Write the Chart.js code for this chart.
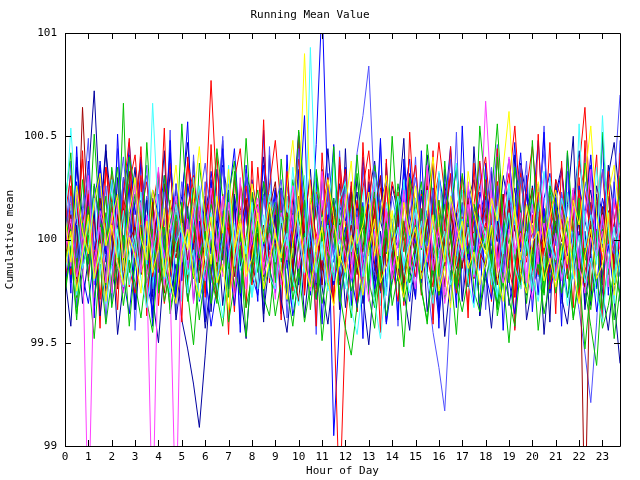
<!DOCTYPE html>
<html>
<head>
<meta charset="utf-8">
<script src="https://cdn.jsdelivr.net/npm/chart.js@4"></script>
<style>
  body { margin: 0; background: #fff; }
  canvas { display: block; }
</style>
</head>
<body>
<canvas id="chart" width="640" height="480"></canvas>
<script>
// sample times, hours (every 15 minutes)
const hours = [
  0,0.25,0.5,0.75,1,1.25,1.5,1.75,2,2.25,2.5,2.75,
  3,3.25,3.5,3.75,4,4.25,4.5,4.75,5,5.25,5.5,5.75,
  6,6.25,6.5,6.75,7,7.25,7.5,7.75,8,8.25,8.5,8.75,
  9,9.25,9.5,9.75,10,10.25,10.5,10.75,11,11.25,11.5,11.75,
  12,12.25,12.5,12.75,13,13.25,13.5,13.75,14,14.25,14.5,14.75,
  15,15.25,15.5,15.75,16,16.25,16.5,16.75,17,17.25,17.5,17.75,
  18,18.25,18.5,18.75,19,19.25,19.5,19.75,20,20.25,20.5,20.75,
  21,21.25,21.5,21.75,22,22.25,22.5,22.75,23,23.25,23.5,23.75
];
const xTicks = [0,1,2,3,4,5,6,7,8,9,10,11,12,13,14,15,16,17,18,19,20,21,22,23];
const yTicks = [99, 99.5, 100, 100.5, 101];
const yTickLabels = ['99', '99.5', '100', '100.5', '101'];

const runA = [
  100.12,100.31,99.95,100.08,100.22,99.87,100.04,100.35,100.18,99.92,100.10,100.27,
  100.41,100.06,99.89,100.15,100.33,100.02,99.84,100.19,100.09,100.37,100.24,99.96,
  100.13,100.77,100.21,99.98,100.07,100.29,100.44,100.11,99.90,100.17,100.03,100.26,
  100.48,100.14,99.93,100.20,100.39,100.05,99.86,100.23,100.12,100.30,100.01,100.16,
  100.34,99.97,100.08,100.25,100.43,100.12,99.88,100.06,100.28,100.15,99.94,100.21,
  100.36,100.04,99.91,100.18,100.47,100.22,100.00,100.13,100.31,99.95,100.09,100.26,
  100.40,100.07,99.85,100.17,100.32,100.11,99.99,100.24,100.45,100.14,99.92,100.05,
  100.29,100.19,99.96,100.10,100.38,100.23,100.02,100.15,100.33,99.98,100.08,100.27
];
const runB = [
  99.88,100.05,99.72,99.94,100.16,99.81,99.99,100.21,99.76,99.90,100.66,99.84,
  99.97,100.18,99.79,99.92,100.04,99.70,99.86,100.12,99.95,99.78,100.08,99.91,
  100.02,99.83,99.69,99.96,100.14,99.87,99.74,100.01,100.23,99.89,99.80,100.06,
  99.93,100.07,100.11,99.77,99.98,100.19,99.85,99.71,100.03,99.92,99.82,100.10,
  99.96,99.75,99.88,100.13,99.80,99.67,99.94,100.08,99.86,100.20,99.99,99.79,
  99.90,100.15,99.84,99.73,100.00,100.17,99.88,99.76,99.97,100.11,99.83,99.95,
  100.06,99.81,99.68,99.93,100.12,99.87,99.78,100.02,100.24,99.91,99.74,99.98,
  100.09,99.85,99.72,99.96,100.14,99.80,99.66,99.92,100.05,99.87,99.61,99.89
];
const runC = [
  100.15,99.92,100.28,100.04,99.83,100.19,100.36,99.95,100.10,99.78,100.24,100.41,
  100.02,99.87,100.20,99.74,100.09,100.31,99.91,100.13,99.80,100.27,100.06,99.85,
  100.17,99.93,100.34,100.08,99.76,100.22,100.01,99.89,100.29,100.12,99.82,100.05,
  100.25,99.90,100.11,99.79,100.33,100.14,99.97,100.46,101.15,100.20,99.05,99.60,
  100.03,100.26,99.88,100.18,99.75,100.10,100.30,99.94,100.07,99.81,100.21,100.39,
  99.96,100.14,99.84,100.25,100.04,99.77,100.19,100.35,99.92,100.08,99.86,100.23,
  100.11,99.80,100.28,100.02,99.89,100.16,100.42,99.95,100.06,99.73,100.20,100.32,
  99.98,100.13,99.83,100.24,100.05,99.90,100.18,99.76,100.09,100.27,99.94,100.12
];
const runD = [
  99.95,100.10,99.82,99.97,98.60,99.90,100.06,99.79,100.13,99.88,99.74,100.02,
  99.91,100.18,99.85,98.60,100.04,99.93,99.77,98.60,100.08,99.86,100.15,99.94,
  99.80,100.03,99.89,100.21,99.96,99.72,100.09,99.87,99.99,100.16,99.83,99.92,
  100.05,99.78,99.94,100.12,99.86,100.01,99.75,99.90,100.19,99.97,99.84,100.07,
  99.93,99.81,100.10,99.88,99.70,100.04,99.92,100.14,99.85,99.98,100.22,99.90,
  99.76,100.02,99.89,100.11,99.95,99.69,99.87,100.06,99.94,100.17,99.82,100.00,
  100.67,100.20,99.91,99.79,100.05,99.93,100.13,99.84,99.71,99.97,100.08,99.88,
  100.03,99.80,99.95,100.16,99.87,99.74,100.01,99.92,100.12,99.86,99.99,100.07
];
const runE = [
  100.08,100.54,100.12,99.86,99.97,100.20,99.83,100.05,100.29,99.91,100.14,99.78,
  99.99,100.23,99.88,100.66,100.10,99.81,99.95,100.17,100.03,99.74,100.09,100.26,
  99.92,100.13,99.79,100.01,100.31,99.87,100.06,99.93,100.18,99.76,100.04,100.22,
  99.89,100.11,99.97,100.35,100.02,99.84,100.93,100.16,99.90,100.07,99.80,100.19,
  100.28,99.94,100.05,99.82,100.12,100.30,99.96,99.73,100.08,100.21,99.87,100.00,
  100.15,99.85,100.24,100.03,99.77,99.95,100.19,100.37,99.91,100.06,99.83,100.11,
  100.02,99.78,100.16,99.93,100.27,100.09,99.86,100.04,99.75,100.13,100.33,99.98,
  99.90,100.20,100.07,99.81,100.56,99.96,100.12,99.88,100.60,100.05,99.79,100.14
];
const runF = [
  100.11,99.89,100.26,100.04,99.93,100.18,100.32,99.97,100.09,100.22,99.85,100.13,
  100.30,100.01,99.90,100.24,100.07,99.82,100.15,100.36,100.05,99.95,100.19,100.45,
  100.08,99.88,100.21,100.03,100.34,99.96,100.12,99.84,100.27,100.10,99.99,100.17,
  100.02,99.91,100.25,100.48,100.14,100.90,100.20,99.94,100.06,100.29,100.11,99.87,
  100.16,100.38,99.98,100.07,100.23,99.92,100.10,100.31,100.04,99.86,100.18,100.02,
  100.26,99.97,100.12,100.40,100.06,99.89,100.21,100.08,99.95,100.33,100.14,100.01,
  99.93,100.20,100.09,100.35,100.62,100.13,99.90,100.17,100.03,100.28,99.96,100.11,
  100.24,100.05,99.88,100.19,100.07,100.30,100.55,100.12,99.94,100.22,100.36,100.08
];
const runG = [
  99.94,100.12,99.81,100.64,100.05,99.87,100.20,99.98,100.09,99.76,100.14,100.33,
  99.92,100.06,99.83,100.18,99.97,100.27,99.85,100.02,100.16,99.90,100.08,99.79,
  100.11,100.24,99.88,99.99,100.13,99.74,100.05,100.19,99.93,100.03,99.82,100.15,
  100.28,99.95,100.07,99.86,100.21,100.01,99.89,100.17,99.78,100.04,100.12,99.91,
  100.00,100.23,99.84,100.09,99.96,100.14,100.31,99.87,100.02,99.80,100.18,100.06,
  99.93,100.10,100.26,99.91,100.04,99.77,100.13,100.00,99.86,100.20,99.97,100.08,
  100.15,99.88,100.03,100.22,99.90,100.07,99.79,100.11,100.25,99.95,100.01,99.84,
  100.14,99.99,100.06,99.83,100.18,98.60,100.09,99.92,100.02,100.21,99.88,99.97
];
const runH = [
  100.06,99.91,100.18,99.84,100.30,100.72,100.15,99.93,100.04,100.22,99.86,100.11,
  99.97,100.19,100.02,99.80,100.13,99.95,99.72,99.88,99.61,99.47,99.30,99.09,
  99.44,99.83,100.10,99.96,100.24,100.03,99.87,100.16,99.92,100.07,100.28,99.85,
  100.01,100.20,99.89,100.12,99.78,100.05,100.34,99.94,100.09,99.82,100.15,100.26,
  99.90,100.08,100.23,99.86,100.01,99.73,100.17,100.04,99.88,100.13,100.29,99.95,
  100.10,99.84,100.03,100.19,99.91,100.27,100.06,99.79,99.97,100.14,100.00,99.87,
  100.21,99.93,100.09,99.81,100.12,100.25,99.96,100.05,99.89,100.18,100.02,99.76,
  100.07,100.16,99.92,100.03,99.85,100.11,100.24,99.98,99.83,100.06,99.71,99.40
];
const runI = [
  99.96,100.14,99.82,100.07,99.91,100.25,100.03,99.78,100.16,99.94,100.30,100.09,
  99.87,100.02,100.21,99.93,99.76,100.11,99.99,100.27,99.85,100.05,100.18,99.92,
  100.08,99.81,100.13,100.35,99.97,100.04,99.74,100.19,100.01,99.88,100.22,100.10,
  99.95,100.17,99.86,100.06,100.28,99.90,100.12,99.79,100.03,100.24,99.92,100.15,
  100.31,100.09,100.42,100.60,100.84,100.20,99.98,100.14,100.02,99.89,100.23,100.06,
  99.93,100.11,99.80,99.55,99.38,99.17,99.70,100.04,100.17,99.91,100.08,99.85,
  100.19,99.97,100.26,100.03,99.87,100.13,100.36,99.94,100.07,99.82,100.15,100.01,
  99.90,100.22,100.05,99.84,99.66,99.45,99.21,99.60,100.10,99.96,100.28,100.70
];
const runJ = [
  99.85,100.03,99.72,99.96,100.14,99.80,99.91,100.08,99.77,99.99,100.19,99.86,
  99.74,99.93,100.11,99.82,100.02,99.69,99.88,100.06,99.95,99.79,100.15,99.90,
  100.04,99.84,99.71,99.97,100.12,99.87,100.26,99.93,99.78,100.01,99.89,100.16,
  99.92,99.81,100.07,99.75,99.98,100.18,99.86,99.73,100.05,99.94,99.68,98.70,
  99.60,99.90,100.10,99.83,99.96,100.20,99.79,100.03,99.88,99.70,100.09,99.95,
  99.82,100.06,99.92,99.77,100.13,99.87,100.00,99.74,99.91,100.17,99.85,99.97,
  100.08,99.80,99.94,100.22,99.86,99.72,100.04,99.89,100.12,99.83,99.99,99.76,
  99.93,100.10,99.81,99.98,100.24,99.87,99.75,100.05,99.90,100.14,99.84,100.02
];
const runK = [
  100.13,99.94,100.20,100.04,99.88,100.27,100.09,99.97,100.16,100.35,99.92,100.06,
  100.22,100.01,99.86,100.14,100.30,99.95,100.08,100.19,99.90,100.03,100.25,100.12,
  99.93,100.17,100.05,99.84,100.21,100.38,100.02,99.91,100.11,100.24,99.98,100.07,
  100.18,99.89,100.04,100.29,100.10,99.96,100.15,100.33,99.99,100.08,100.20,99.87,
  100.03,100.16,100.32,99.94,100.09,100.23,99.85,100.12,100.01,100.27,100.06,99.92,
  100.14,100.28,99.97,100.05,100.19,99.90,100.11,100.36,100.02,99.93,100.17,100.08,
  99.95,100.21,100.56,100.10,99.98,100.13,100.30,100.04,99.86,100.18,100.07,100.25,
  99.99,100.12,100.03,99.88,100.20,99.76,99.58,99.39,99.82,100.06,99.94,100.15
];
const runL = [
  99.78,99.96,100.10,99.83,99.69,99.92,100.05,99.75,99.88,100.13,99.81,99.64,
  99.93,100.07,99.79,99.66,99.90,100.02,99.84,99.72,100.11,99.87,99.98,99.70,
  99.85,99.58,99.77,100.04,99.91,99.68,99.95,100.16,99.82,99.73,99.99,99.86,
  99.74,100.08,99.89,99.63,99.80,100.01,99.92,99.71,99.84,100.12,99.78,99.94,
  100.06,99.82,99.67,99.88,100.03,99.76,99.93,99.59,99.81,100.09,99.87,99.70,
  99.96,99.79,100.14,99.85,99.62,99.90,100.05,99.73,99.88,99.97,99.69,100.10,
  99.83,99.71,99.95,100.07,99.80,99.64,99.91,100.02,99.77,99.86,100.15,99.74,
  99.89,99.98,99.72,99.84,100.04,99.79,99.93,99.65,99.82,99.97,99.75,99.91
];
const runM = [
  100.20,100.02,100.35,100.11,99.94,100.26,100.08,100.43,100.15,99.97,100.30,100.05,
  100.18,100.39,100.01,100.24,100.12,99.95,100.33,100.07,100.21,100.47,100.10,99.99,
  100.14,100.28,100.03,100.36,100.19,99.96,100.09,100.31,100.22,100.04,100.40,100.13,
  99.98,100.25,100.12,100.06,100.34,100.17,100.00,100.23,100.11,100.44,100.08,100.27,
  100.15,99.93,100.30,100.05,100.21,100.38,100.09,99.97,100.26,100.13,100.02,100.32,
  100.18,100.06,100.41,100.10,99.95,100.23,100.14,100.35,100.02,100.19,100.29,100.07,
  100.24,100.11,99.99,100.31,100.16,100.04,100.37,100.20,100.08,100.27,99.96,100.13,
  100.22,100.35,100.05,100.17,100.43,100.09,99.98,100.26,100.12,100.31,100.47,100.18
];
const runN = [
  100.01,100.17,99.89,100.06,100.24,99.93,100.11,99.80,100.04,100.20,99.95,100.09,
  99.86,100.13,100.28,99.97,100.07,99.83,100.19,100.02,99.91,100.15,100.31,100.00,
  99.94,100.10,99.82,100.22,100.05,99.88,100.14,100.26,99.96,100.03,99.85,100.18,
  100.08,99.92,100.21,100.01,99.87,100.12,100.29,99.98,100.06,99.81,100.16,100.03,
  99.95,100.19,100.07,99.84,100.11,99.97,100.25,100.09,99.90,100.14,100.02,99.86,
  100.20,100.05,99.93,100.16,100.32,100.00,99.89,100.10,100.23,99.96,100.04,100.17,
  99.99,100.13,99.85,100.08,100.27,100.55,100.12,99.94,100.03,100.19,99.88,100.06,
  100.15,99.92,100.21,100.04,100.35,100.64,100.10,99.97,100.07,99.86,100.18,100.01
];
const runO = [
  99.84,100.01,99.73,99.92,100.09,99.80,99.96,99.69,99.88,100.05,99.77,99.93,
  100.02,99.81,99.67,99.90,100.11,99.86,99.74,99.98,100.06,99.83,99.95,99.71,
  99.87,100.04,99.79,99.62,99.91,100.08,99.85,99.97,99.72,99.89,100.12,99.82,
  99.76,99.94,100.03,99.80,99.68,99.90,100.07,99.84,99.99,99.75,99.92,100.00,
  99.83,99.66,99.54,99.78,99.95,99.70,99.52,99.81,99.97,100.06,99.86,99.74,
  99.91,100.09,99.82,99.69,99.94,100.04,99.78,99.88,100.10,99.80,99.67,99.93,
  100.01,99.85,99.72,99.96,100.13,99.87,99.76,99.99,99.83,99.70,99.92,100.05,
  99.81,99.95,99.68,99.87,100.02,99.79,99.91,99.74,99.60,99.89,100.06,99.84
];
const runP = [
  100.10,99.86,100.24,100.03,100.38,99.95,100.15,99.89,100.29,100.06,99.93,100.47,
  100.12,100.30,99.97,100.20,99.84,100.09,100.42,100.01,99.92,100.26,100.14,99.88,
  100.05,100.33,100.11,99.90,100.19,100.44,100.02,99.87,100.23,100.08,100.36,99.95,
  100.17,99.91,100.27,100.04,100.50,100.13,99.94,100.21,100.00,100.32,99.89,100.16,
  100.09,100.25,99.93,100.40,100.07,99.85,100.18,100.29,100.03,99.96,100.34,100.12,
  99.97,100.21,100.06,99.88,100.31,100.15,100.45,100.02,99.91,100.24,100.10,99.98,
  100.28,100.05,99.90,100.17,100.39,100.08,99.94,100.22,100.13,100.48,100.01,99.92,
  100.19,100.33,100.06,99.87,100.26,100.11,100.41,99.99,100.20,100.07,99.93,100.30
];
const runQ = [
  99.90,100.08,99.77,99.97,100.15,99.84,100.02,99.71,99.93,100.12,99.80,99.99,
  100.06,99.83,99.95,100.18,99.88,99.74,100.03,99.91,100.10,99.79,99.96,100.14,
  99.86,100.00,99.72,99.94,100.11,99.82,100.05,100.20,99.89,99.76,100.07,99.92,
  99.98,99.81,100.13,99.87,99.70,100.04,99.93,100.16,99.85,99.97,100.09,99.78,
  99.92,100.07,99.83,99.96,100.17,99.88,99.75,100.01,99.90,100.12,99.79,99.95,
  100.03,99.84,100.10,99.91,99.73,99.99,100.14,99.86,99.97,100.06,99.81,99.94,
  99.87,100.05,99.78,99.98,100.19,99.89,99.76,100.02,99.93,100.11,99.82,99.96,
  100.08,99.85,99.97,100.13,99.90,99.77,100.04,99.92,100.16,99.83,99.99,100.09
];
const runR = [
  99.76,99.93,99.64,99.85,100.02,99.72,99.88,99.59,99.81,99.97,99.68,99.90,
  99.79,99.62,99.87,100.05,99.74,99.91,99.66,99.83,99.99,99.70,99.86,99.61,
  99.84,100.00,99.73,99.58,99.89,99.77,99.95,99.67,99.82,100.06,99.75,99.88,
  99.63,99.80,99.96,99.71,99.86,99.60,99.78,99.94,99.69,99.85,100.03,99.74,
  99.57,99.44,99.68,99.83,99.99,99.72,99.87,99.63,99.79,99.92,99.70,99.84,
  99.98,99.75,99.61,99.86,99.73,99.90,100.04,99.78,99.65,99.82,99.95,99.69,
  99.81,99.93,99.66,99.84,99.71,99.58,99.87,100.01,99.76,99.89,99.64,99.80,
  99.91,99.74,99.86,99.62,99.79,99.96,99.70,99.83,99.57,99.68,99.85,99.73
];
const runS = [
  99.86,100.04,99.75,99.93,100.12,99.81,99.98,99.70,100.07,99.89,99.78,100.01,
  99.92,99.74,100.09,99.84,99.96,100.15,99.80,99.69,99.94,100.05,99.83,99.72,
  99.97,100.11,99.79,99.88,99.66,99.95,100.08,99.82,99.91,100.13,99.76,99.90,
  100.03,99.85,99.71,99.99,100.17,99.87,99.77,99.94,100.06,99.80,99.68,99.92,
  99.84,100.02,99.90,99.73,99.96,100.10,99.79,99.88,100.14,99.83,99.72,99.97,
  100.06,99.81,99.93,100.12,99.75,99.87,99.67,99.98,100.09,99.86,99.94,99.78,
  99.89,100.07,99.82,99.70,99.95,100.16,99.84,99.74,99.99,100.04,99.80,99.91,
  99.77,99.96,100.11,99.85,99.69,99.92,100.05,99.81,99.88,100.13,99.73,99.95
];
const runT = [
  100.03,100.21,99.91,100.12,100.34,99.97,100.08,100.26,99.88,100.15,100.40,100.05,
  99.94,100.17,100.31,100.02,99.86,100.23,100.10,99.99,100.28,100.06,99.90,100.19,
  100.37,100.09,99.95,100.14,100.27,99.89,100.04,100.32,100.11,99.93,100.20,100.01,
  100.16,100.29,99.98,100.07,100.44,100.13,99.87,100.22,100.05,100.18,99.96,100.10,
  100.25,100.00,100.14,99.90,100.08,100.33,100.17,99.94,100.21,100.06,99.85,100.12,
  100.30,100.09,99.97,100.24,100.03,100.16,100.39,99.92,100.07,100.26,100.11,99.99,
  100.14,100.35,100.02,99.88,100.20,100.09,100.30,100.04,99.95,100.17,100.43,100.10,
  99.97,100.23,100.06,100.15,99.91,100.28,100.12,100.01,100.34,100.08,99.93,100.19
];
const runU = [
  100.32,99.74,100.45,99.88,100.21,99.62,100.38,100.05,99.69,100.51,99.93,100.27,
  99.66,100.40,100.02,99.58,100.33,99.81,100.48,99.72,100.15,100.57,99.85,100.09,
  99.60,100.29,99.91,100.44,99.76,100.19,99.55,100.36,100.01,99.70,100.53,99.89,
  100.24,99.64,100.41,99.83,100.12,100.60,99.73,100.30,99.59,100.07,100.46,99.80,
  100.35,99.68,100.18,99.52,100.27,99.94,100.49,99.77,100.10,99.61,100.39,99.98,
  99.71,100.43,99.86,100.22,99.57,100.34,100.03,99.67,100.55,99.90,100.16,99.63,
  100.37,99.79,100.25,99.56,100.11,100.47,99.84,100.31,99.65,100.06,100.52,99.75,
  100.20,99.58,100.42,99.87,100.14,99.69,100.36,99.95,100.50,99.73,100.28,99.82
];
const runV = [
  99.70,100.26,99.93,100.43,99.80,100.12,99.57,100.35,100.07,99.66,100.22,100.49,
  99.88,100.31,99.63,100.17,99.95,100.54,99.75,100.09,99.60,100.40,99.98,100.25,
  99.72,100.46,99.87,100.13,99.54,100.30,100.04,99.67,100.38,99.90,100.58,99.79,
  100.16,99.61,100.33,99.96,100.50,99.74,100.20,99.58,100.42,100.01,99.69,100.36,
  99.84,100.28,99.65,100.47,99.92,100.14,99.55,100.39,99.81,100.23,99.68,100.52,
  100.05,99.73,100.34,99.59,100.19,99.97,100.45,99.76,100.11,99.62,100.37,99.86,
  100.29,99.70,100.44,99.89,100.15,99.56,100.32,100.08,99.78,100.51,99.93,100.21,
  99.64,100.38,99.85,100.24,99.71,100.48,99.99,100.17,99.60,100.33,99.83,100.42
];
const runW = [
  100.18,100.42,99.86,100.29,99.97,100.51,100.07,99.78,100.35,100.13,99.90,100.40,
  100.24,99.83,100.47,100.02,99.75,100.31,100.16,99.94,100.56,100.09,99.81,100.37,
  100.11,99.87,100.44,100.20,99.72,100.33,99.99,100.49,100.05,99.84,100.28,100.14,
  99.79,100.39,100.03,99.91,100.53,100.22,99.85,100.34,100.10,99.76,100.45,100.00,
  100.27,99.89,100.41,100.06,99.80,100.36,100.15,99.93,100.50,100.04,99.74,100.30,
  100.12,99.95,100.46,100.19,99.82,100.38,100.01,99.77,100.32,100.09,99.88,100.55,
  100.23,99.86,100.40,100.07,99.79,100.35,100.14,99.92,100.48,100.02,99.73,100.26,
  100.17,99.90,100.43,100.05,99.81,100.37,100.11,99.96,100.52,100.08,99.78,100.31
];
const runX = [
  99.82,99.58,100.07,99.69,99.91,100.14,99.63,99.87,100.02,99.54,99.79,100.10,
  99.66,99.95,100.19,99.72,99.50,99.89,100.05,99.61,99.84,100.16,99.70,99.93,
  99.57,99.81,100.09,99.68,99.96,100.21,99.74,99.52,99.88,100.03,99.64,99.90,
  100.12,99.71,99.55,99.86,100.06,99.62,99.93,100.18,99.77,99.59,99.85,100.08,
  99.67,99.94,100.15,99.73,99.49,99.83,100.04,99.60,99.89,100.20,99.75,99.56,
  99.91,100.11,99.65,99.87,100.01,99.53,99.80,100.13,99.70,99.95,100.17,99.63,
  99.84,99.57,99.92,100.09,99.68,99.86,100.14,99.61,99.78,100.03,99.54,99.90,
  100.07,99.72,99.59,99.88,100.12,99.66,99.94,100.18,99.75,99.56,99.83,100.02
];
const runY = [
  100.09,99.87,100.23,99.95,100.31,99.80,100.14,100.02,99.74,100.19,99.91,100.06,
  100.27,99.84,100.12,99.96,100.35,99.78,100.04,100.21,99.89,100.10,99.69,100.16,
  99.93,100.25,100.01,99.82,100.18,99.97,100.30,99.76,100.08,100.20,99.86,100.03,
  99.71,100.13,99.90,100.26,100.05,99.83,100.17,99.94,100.33,99.79,100.07,99.98,
  100.22,99.88,100.11,99.75,100.04,100.29,99.92,100.15,99.81,100.00,100.24,99.87,
  100.13,99.96,100.36,99.85,100.06,99.73,100.19,100.01,99.90,100.28,99.82,100.10,
  99.99,100.24,99.84,100.12,100.40,99.94,100.03,99.79,100.17,99.88,100.32,100.05,
  99.80,100.14,99.97,100.25,99.86,100.09,100.34,99.92,100.04,99.77,100.20,99.95
];
const runZ = [
  99.92,100.38,99.67,100.15,100.49,99.78,100.26,99.60,100.04,100.44,99.85,100.30,
  99.56,100.09,100.36,99.74,100.22,99.90,100.53,99.64,100.13,99.81,100.41,99.97,
  100.28,99.70,100.06,100.50,99.87,100.19,99.59,100.34,99.95,100.12,99.68,100.45,
  99.83,100.24,99.62,100.07,100.39,99.76,100.16,99.54,100.31,100.00,99.72,100.43,
  99.89,100.20,99.65,100.35,100.02,99.80,100.47,99.73,100.10,99.58,100.27,99.96,
  100.40,99.79,100.14,99.61,100.32,100.05,99.86,100.52,99.71,100.18,99.93,100.37,
  99.66,100.11,100.46,99.84,100.23,99.57,100.09,100.38,99.78,100.01,100.55,99.88,
  100.21,99.69,100.33,100.00,99.75,100.44,99.91,100.16,99.63,100.29,99.86,100.48
];
const runAA = [
  100.25,99.83,100.10,100.39,99.92,100.18,99.71,100.06,100.33,99.88,100.14,99.77,
  100.02,100.45,99.86,100.20,99.68,100.11,100.37,99.94,100.08,99.79,100.30,100.00,
  99.74,100.16,100.42,99.90,100.05,99.65,100.27,100.13,99.84,100.35,99.97,100.21,
  100.09,99.80,100.31,99.96,100.48,99.73,100.12,100.03,99.86,100.24,99.69,100.40,
  100.07,99.91,100.19,99.75,100.34,100.01,99.82,100.26,99.95,100.13,99.70,100.29,
  99.87,100.22,99.98,100.43,99.76,100.10,100.32,99.89,100.04,99.66,100.17,100.38,
  100.11,99.79,100.28,99.93,100.15,99.72,100.36,100.00,99.85,100.23,99.98,100.47,
  99.81,100.19,100.04,99.67,100.30,99.90,100.12,100.41,99.78,100.08,99.94,100.26
];
const runAB = [
  99.98,100.17,99.80,100.05,100.28,99.89,100.11,99.73,100.22,99.94,100.07,100.34,
  99.85,99.99,100.19,99.76,100.04,100.25,99.91,100.13,99.70,100.02,100.30,99.87,
  100.15,99.79,100.08,99.95,100.36,99.83,100.01,100.20,99.72,100.10,99.90,100.27,
  100.03,99.84,100.21,99.67,100.09,100.31,99.93,100.00,99.78,100.14,100.40,99.88,
  99.76,100.12,99.96,100.26,99.81,100.05,99.68,100.18,100.02,99.86,100.29,99.94,
  100.20,99.74,100.07,99.90,100.33,99.97,99.82,100.11,100.24,99.79,100.03,99.92,
  99.87,100.16,99.71,100.04,100.27,99.93,100.10,99.77,100.19,100.01,99.84,100.30,
  100.06,99.81,100.23,99.95,99.73,100.14,99.89,100.35,99.98,100.09,99.69,100.12
];
const runAC = [
  99.73,99.95,99.61,100.08,99.82,99.52,99.90,100.13,99.67,99.86,100.02,99.58,
  99.89,100.15,99.70,99.55,99.93,100.06,99.64,99.81,100.18,99.74,99.49,99.87,
  100.04,99.69,99.85,100.11,99.60,99.78,99.97,99.53,99.88,100.09,99.72,99.63,
  99.91,100.14,99.76,99.58,99.84,100.03,99.66,99.95,99.51,99.79,100.10,99.70,
  99.86,99.62,99.98,100.16,99.73,99.57,99.89,100.05,99.68,99.83,99.48,99.92,
  100.07,99.77,99.59,99.94,100.12,99.71,99.85,99.54,99.99,100.14,99.75,99.65,
  99.90,100.06,99.63,99.80,99.50,99.87,100.11,99.69,99.96,99.56,99.82,100.01,
  99.74,99.93,100.09,99.61,99.85,99.47,99.78,100.04,99.66,99.89,99.52,99.76
];
const runAD = [
  100.16,99.79,100.40,99.96,100.23,99.68,100.08,100.46,99.87,100.30,99.75,100.12,
  100.35,99.90,100.19,99.62,100.05,100.43,99.82,100.27,100.00,99.71,100.38,99.94,
  100.21,99.65,100.11,100.48,99.86,100.17,99.73,100.32,99.97,100.09,99.60,100.41,
  99.88,100.25,99.70,100.13,100.52,99.93,100.06,99.76,100.34,99.84,100.20,99.66,
  100.44,99.81,100.10,99.69,100.28,100.02,99.74,100.37,99.91,100.15,100.49,99.85,
  99.72,100.24,99.98,100.39,99.63,100.07,100.31,99.89,100.18,99.77,100.45,100.03,
  99.95,100.33,99.67,100.14,99.86,100.41,100.00,99.73,100.26,99.92,100.09,99.60,
  100.29,99.83,100.17,100.50,99.78,100.04,99.68,100.22,99.96,100.36,100.11,99.70
];

// draw order, bottom to top
const runs = [runS, runF, runO, runE, runY, runD, runR, runB, runAC, runQ, runT, runK, runW, runG, runJ,
              runL, runX, runA, runV, runI, runAB, runP, runN, runAA, runU, runC, runZ, runM, runAD, runH];
const runColors = ['#ffff00', '#ffff00', '#40ffff', '#40ffff', '#ff40ff', '#ff40ff', '#00c000', '#00c000', '#00c000', '#a00000',
                   '#5050ff', '#00c000', '#00c000', '#a00000', '#ff0000', '#0000ff', '#0000a0', '#ff0000', '#ff0000', '#5050ff',
                   '#40ffff', '#0000ff', '#ff0000', '#ff0000', '#0000ff', '#0000ff', '#5050ff', '#0000a0', '#0000a0', '#0000a0'];

const FONT = { family: "'DejaVu Sans Mono', monospace", size: 11, weight: 'normal' };

// gnuplot style box with inward ticks on all four sides
const framePlugin = {
    id: 'frame',
    afterDatasetsDraw(chart) {
        const { ctx, chartArea: a, scales } = chart;
        ctx.save();
        ctx.strokeStyle = '#000';
        ctx.lineWidth = 1;
        ctx.beginPath();
        ctx.rect(a.left + 0.5, a.top + 0.5, a.right - a.left, a.bottom - a.top);
        xTicks.forEach(v => {
            const px = Math.round(scales.x.getPixelForValue(v)) + 0.5;
            ctx.moveTo(px, a.bottom); ctx.lineTo(px, a.bottom - 6);
            ctx.moveTo(px, a.top); ctx.lineTo(px, a.top + 6);
        });
        yTicks.forEach(v => {
            const py = Math.round(scales.y.getPixelForValue(v)) + 0.5;
            ctx.moveTo(a.left, py); ctx.lineTo(a.left + 6, py);
            ctx.moveTo(a.right, py); ctx.lineTo(a.right - 6, py);
        });
        ctx.stroke();
        ctx.restore();
    }
};

new Chart(document.getElementById('chart'), {
    type: 'line',
    data: {
        datasets: runs.map((run, i) => ({
            data: run.map((v, j) => ({ x: hours[j], y: v })),
            borderColor: runColors[i],
            borderWidth: 1,
            pointRadius: 0,
            tension: 0,
            fill: false
        }))
    },
    options: {
        responsive: false,
        animation: false,
        layout: { padding: { left: 0, right: 20, top: 0, bottom: 0 } },
        plugins: {
            legend: { display: false },
            tooltip: { enabled: false },
            title: {
                display: true,
                text: 'Running Mean Value',
                color: '#000',
                font: FONT,
                padding: { top: 9, bottom: 10.8 }
            }
        },
        scales: {
            x: {
                type: 'linear',
                min: 0,
                max: 23.75,
                afterBuildTicks: s => { s.ticks = xTicks.map(v => ({ value: v })); },
                afterFit: s => { s.height = 34; },
                grid: { display: false, drawTicks: false },
                border: { display: false },
                ticks: { color: '#000', font: FONT, padding: 5, maxRotation: 0, autoSkip: false,
                         callback: v => String(v) },
                title: { display: true, text: 'Hour of Day', color: '#000', font: FONT, padding: { top: 0, bottom: 2.4 } }
            },
            y: {
                min: 99,
                max: 101,
                afterBuildTicks: s => { s.ticks = yTicks.map(v => ({ value: v })); },
                afterFit: s => { s.width = 65; },
                grid: { display: false, drawTicks: false },
                border: { display: false },
                ticks: { color: '#000', font: FONT, padding: 8,
                         callback: (v, i) => yTickLabels[i] },
                title: { display: true, text: 'Cumulative mean', color: '#000', font: FONT, padding: { top: 3.5, bottom: 0 } }
            }
        }
    },
    plugins: [framePlugin]
});
</script>
</body>
</html>
